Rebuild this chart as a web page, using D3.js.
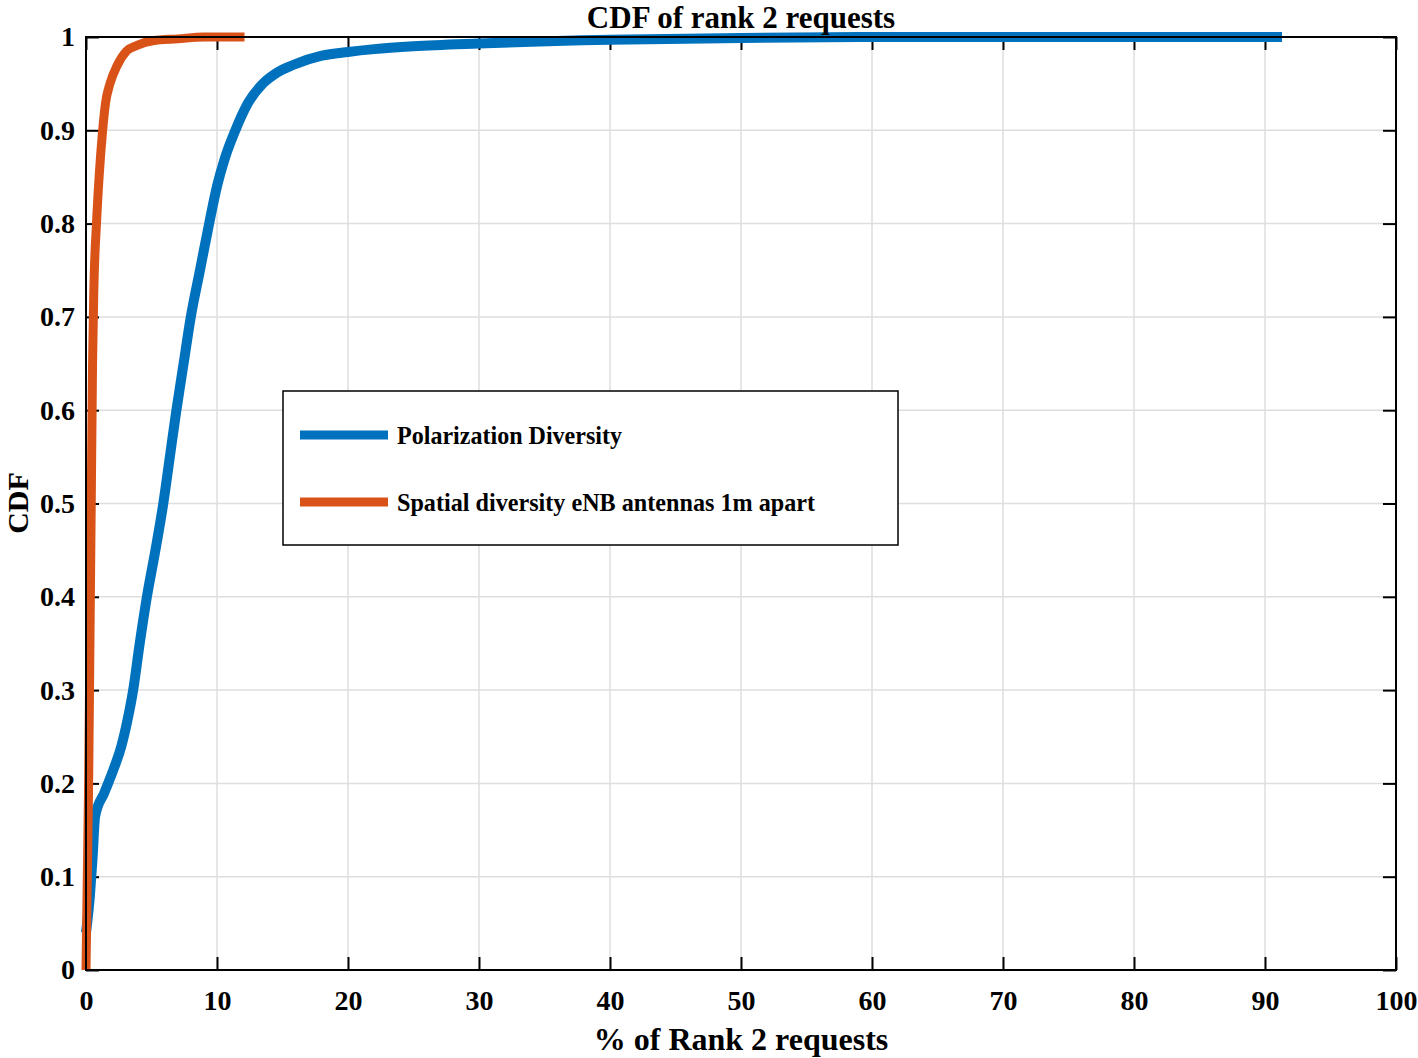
<!DOCTYPE html>
<html>
<head>
<meta charset="utf-8">
<script src="https://cdn.jsdelivr.net/npm/d3@7"></script>
<style>
  body { margin: 0; background: #fff; }
  text { font-family: "Liberation Serif", "Times New Roman", serif; font-weight: bold; fill: #000; }
</style>
</head>
<body>
<div id="chart"></div>
<script>
// data
let polX = [0, 0.3, 0.5, 0.7, 1.4, 2.1, 2.7, 3.2, 3.6, 4.1, 4.65, 5.3, 5.9, 6.4, 6.9, 7.45, 8.0, 8.7, 9.4, 10.0, 10.6, 11.4, 12.4, 13.5, 14.6, 15.8, 18, 20, 22, 25, 30, 40, 50, 60, 70, 91.3];
let polY = [0.04, 0.08, 0.12, 0.165, 0.19, 0.215, 0.24, 0.27, 0.3, 0.35, 0.4, 0.45, 0.5, 0.55, 0.6, 0.65, 0.7, 0.75, 0.8, 0.84, 0.87, 0.9, 0.93, 0.95, 0.962, 0.97, 0.98, 0.984, 0.987, 0.99, 0.993, 0.997, 0.999, 1, 1, 1];

let spaX = [0, 0.1, 0.2, 0.3, 0.4, 0.5, 0.6, 0.8, 1.0, 1.27, 1.5, 1.83, 2.4, 3.1, 3.9, 5.1, 7, 9, 12.1];
let spaY = [0, 0.1, 0.2, 0.35, 0.5, 0.65, 0.73, 0.8, 0.85, 0.9, 0.93, 0.95, 0.97, 0.985, 0.991, 0.996, 0.998, 1, 1];

let seriesNames = ["Polarization Diversity", "Spatial diversity eNB antennas 1m apart"];
let seriesColors = ["#0072BD", "#D95319"];
let xTicks = [0, 10, 20, 30, 40, 50, 60, 70, 80, 90, 100];
let yTicks = [0, 0.1, 0.2, 0.3, 0.4, 0.5, 0.6, 0.7, 0.8, 0.9, 1];

let svgWidth = 1418;
let svgHeight = 1058;
let margin = { top: 37, right: 22, bottom: 88, left: 86 };
let width = 1396 - margin.left;
let height = 970 - margin.top;

let svg = d3.select("#chart")
    .append("svg")
    .attr("width", svgWidth)
    .attr("height", svgHeight);

let chartGroup = svg.append("g")
    .attr("transform", `translate(${margin.left}, ${margin.top})`);

let x = d3.scaleLinear().domain([0, 100]).range([0, width]);
let y = d3.scaleLinear().domain([0, 1]).range([height, 0]);

// grid
chartGroup.append("g")
    .selectAll("line")
    .data(xTicks.slice(1, -1))
    .enter()
    .append("line")
    .attr("x1", d => x(d)).attr("x2", d => x(d))
    .attr("y1", 0).attr("y2", height)
    .attr("stroke", "#dedede").attr("stroke-width", 1.5);

chartGroup.append("g")
    .selectAll("line")
    .data(yTicks.slice(1, -1))
    .enter()
    .append("line")
    .attr("y1", d => y(d)).attr("y2", d => y(d))
    .attr("x1", 0).attr("x2", width)
    .attr("stroke", "#dedede").attr("stroke-width", 1.5);

// axes with inward ticks
let bottomAxis = d3.axisBottom(x).tickValues(xTicks).tickSizeInner(-13).tickSizeOuter(0).tickPadding(20);
let leftAxis = d3.axisLeft(y).tickValues(yTicks).tickSizeInner(-13).tickSizeOuter(0).tickPadding(11)
    .tickFormat(d => d3.format("")(d));
let topAxis = d3.axisTop(x).tickValues(xTicks).tickSizeInner(-13).tickSizeOuter(0).tickFormat("");
let rightAxis = d3.axisRight(y).tickValues(yTicks).tickSizeInner(-13).tickSizeOuter(0).tickFormat("");

let xAxis = chartGroup.append("g")
    .attr("transform", `translate(0, ${height})`)
    .call(bottomAxis);
let yAxis = chartGroup.append("g").call(leftAxis);
chartGroup.append("g").call(topAxis);
chartGroup.append("g").attr("transform", `translate(${width}, 0)`).call(rightAxis);

chartGroup.selectAll(".domain").remove();
chartGroup.selectAll(".tick line").attr("stroke", "#000").attr("stroke-width", 2);
xAxis.selectAll("text").attr("font-size", 28).attr("font-family", null);
yAxis.selectAll("text").attr("font-size", 28).attr("font-family", null);

// series lines
let line = d3.line()
    .x(d => x(d[0]))
    .y(d => y(d[1]))
    .curve(d3.curveMonotoneX);

let polData = polX.map((v, i) => [v, polY[i]]);
let spaData = spaX.map((v, i) => [v, spaY[i]]);

chartGroup.append("path")
    .datum(polData)
    .attr("d", line)
    .attr("fill", "none")
    .attr("stroke", seriesColors[0])
    .attr("stroke-width", 10);

chartGroup.append("path")
    .datum(spaData)
    .attr("d", line)
    .attr("fill", "none")
    .attr("stroke", seriesColors[1])
    .attr("stroke-width", 9);

// frame
chartGroup.append("rect")
    .attr("width", width)
    .attr("height", height)
    .attr("fill", "none")
    .attr("stroke", "#000")
    .attr("stroke-width", 2);

// legend
let legend = svg.append("g").attr("transform", "translate(283, 391)");
legend.append("rect")
    .attr("width", 615)
    .attr("height", 154)
    .attr("fill", "#fff")
    .attr("stroke", "#000")
    .attr("stroke-width", 1.5);

seriesNames.forEach(function (name, i) {
    let ly = 44 + i * 67;
    legend.append("line")
        .attr("x1", 17).attr("x2", 105)
        .attr("y1", ly).attr("y2", ly)
        .attr("stroke", seriesColors[i])
        .attr("stroke-width", 9);
    legend.append("text")
        .attr("x", 114)
        .attr("y", ly)
        .attr("dy", "0.35em")
        .attr("font-size", 25)
        .attr("textLength", i === 0 ? 225 : 418)
        .attr("lengthAdjust", "spacingAndGlyphs")
        .text(name);
});

// titles
svg.append("text")
    .attr("x", margin.left + width / 2)
    .attr("y", 28)
    .attr("text-anchor", "middle")
    .attr("font-size", 31)
    .text("CDF of rank 2 requests");

svg.append("text")
    .attr("x", margin.left + width / 2)
    .attr("y", 1050)
    .attr("text-anchor", "middle")
    .attr("font-size", 32)
    .text("% of Rank 2 requests");

svg.append("text")
    .attr("transform", "rotate(-90)")
    .attr("x", -503)
    .attr("y", 28)
    .attr("text-anchor", "middle")
    .attr("font-size", 30)
    .text("CDF");
</script>
</body>
</html>
